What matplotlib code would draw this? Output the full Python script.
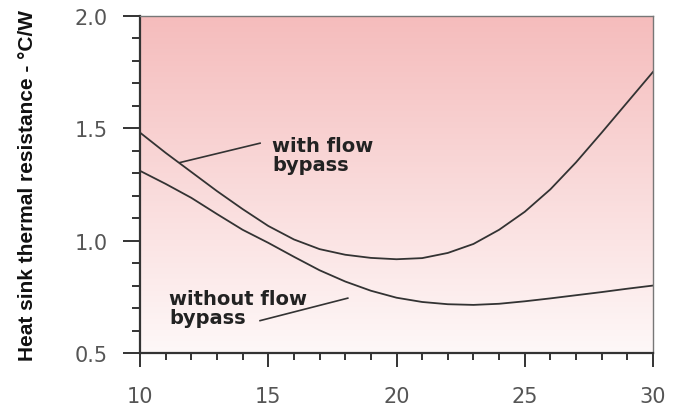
import matplotlib.pyplot as plt
import numpy as np
from matplotlib.ticker import MultipleLocator

plt.rcParams['font.family'] = ['DejaVu Sans']

# values
x = [10, 11, 12, 13, 14, 15, 16, 17, 18, 19, 20, 21, 22, 23, 24, 25, 26, 27, 28, 29, 30]
with_bypass = [1.48, 1.39, 1.305, 1.22, 1.14, 1.065, 1.005, 0.962, 0.937, 0.923, 0.917,
               0.922, 0.945, 0.985, 1.048, 1.128, 1.228, 1.348, 1.48, 1.615, 1.75]
without_bypass = [1.31, 1.252, 1.19, 1.118, 1.048, 0.99, 0.928, 0.868, 0.818, 0.777, 0.746,
                  0.727, 0.717, 0.714, 0.719, 0.73, 0.743, 0.757, 0.771, 0.786, 0.80]

fig = plt.figure(figsize=(6.82, 4.06), dpi=100)
ax = fig.add_axes([0.2053, 0.128, 0.7522, 0.831])

# pink -> white background gradient
top = np.array([245, 188, 188]) / 255
bot = np.array([254, 248, 248]) / 255
t = np.linspace(0, 1, 256)[:, None]
grad = top * (1 - t) + bot * t
ax.imshow(grad[:, None, :], extent=[10, 30, 0.5, 2.0], aspect='auto', zorder=0)

ax.plot(x, with_bypass, color='#333333', lw=1.3, zorder=2)
ax.plot(x, without_bypass, color='#333333', lw=1.3, zorder=2)

ax.set_xlim(10, 30)
ax.set_ylim(0.5, 2.0)
ax.xaxis.set_major_locator(MultipleLocator(5))
ax.xaxis.set_minor_locator(MultipleLocator(1))
ax.yaxis.set_major_locator(MultipleLocator(0.5))
ax.yaxis.set_minor_locator(MultipleLocator(0.1))
ax.yaxis.set_major_formatter(plt.FormatStrFormatter('%.1f'))

ax.tick_params(which='major', width=1.4, color='#333333', labelsize=15, labelcolor='#555555')
ax.tick_params(which='minor', width=1.4, color='#333333')
ax.tick_params(axis='y', which='major', length=12, pad=11)
ax.tick_params(axis='y', which='minor', length=6)
ax.tick_params(axis='x', which='major', length=10, pad=14)
ax.tick_params(axis='x', which='minor', length=5)

for s in ['left', 'bottom']:
    ax.spines[s].set_linewidth(1.6)
    ax.spines[s].set_color('#333333')
for s in ['top', 'right']:
    ax.spines[s].set_linewidth(1.0)
    ax.spines[s].set_color('#777777')

ax.set_ylabel('Heat sink thermal resistance - °C/W', fontsize=15, fontweight='bold',
              family='Liberation Sans', color='#111111', labelpad=27)

ax.text(15.15, 1.38, 'with flow\nbypass', fontsize=14, fontweight='bold', color='#222222',
        va='center', ha='left', linespacing=0.95)
ax.plot([14.68, 11.56], [1.433, 1.347], color='#333333', lw=1.2)

ax.text(11.13, 0.70, 'without flow\nbypass', fontsize=14, fontweight='bold', color='#222222',
        va='center', ha='left', linespacing=0.95)
ax.plot([14.68, 18.1], [0.644, 0.744], color='#333333', lw=1.2)

fig.savefig('out.png', dpi=100)
